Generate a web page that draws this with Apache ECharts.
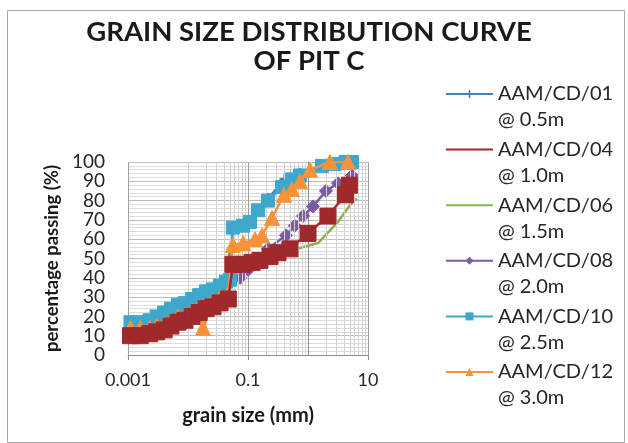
<!DOCTYPE html>
<html>
<head>
<meta charset="utf-8">
<script src="https://cdn.jsdelivr.net/npm/echarts@6/dist/echarts.min.js"></script>
<style>html,body{margin:0;padding:0;background:#fff}#c{width:628px;height:443px}</style>
</head>
<body>
<div id="c"></div>
<script>
// ---- data (grain size in mm, percentage passing) ----
const seriesNames = ['AAM/CD/01\n@ 0.5m','AAM/CD/04\n@ 1.0m','AAM/CD/06\n@ 1.5m','AAM/CD/08\n@ 2.0m','AAM/CD/10\n@ 2.5m','AAM/CD/12\n@ 3.0m'];

const cd01Size = [0.0011,0.0023,0.0068,0.02,0.043,0.056,0.108,0.215,0.413,0.736,1.71,4.22,5.41];
const cd01Pass = [17,18,26,33,38,66,69,81,91,94,98,100,100];

const cd04Size = [0.0011,0.0016,0.0023,0.003,0.004,0.0052,0.0068,0.0089,0.0117,0.0153,0.02,0.0261,0.0342,0.047,0.056,0.083,0.117,0.158,0.233,0.316,0.5,1.0,2.15,4.22,4.9];
const cd04Pass = [10,10,11,12,13,15,17,18,20,22,24,25,27,29,47,47,48,49,51,53,55,63,72,83,88];

const cd06Size = [0.0011,0.0023,0.004,0.0068,0.0117,0.02,0.0342,0.047,0.056,0.117,0.233,0.5,1.47,3.16,5.41,6.55];
const cd06Pass = [9,10,12,16,19,23,26,28,46,47,50,54,58,69,79,81];

const cd08Size = [0.05,0.074,0.1,0.147,0.215,0.43,0.6,0.825,1.21,1.99,3.16,5.41];
const cd08Pass = [39,40,44,47,55,62,67,72,77,85,89,93];

const cd10Size = [0.0011,0.0016,0.0023,0.003,0.004,0.0052,0.0068,0.0089,0.0117,0.0153,0.02,0.0261,0.0342,0.043,0.05,0.056,0.083,0.108,0.147,0.215,0.369,0.541,0.736,1.71,2.82,4.22,5.41];
const cd10Pass = [17,17,18,20,22,24,26,27,29,31,33,34,36,38,39,66,67,69,75,80,87,91,93,98,99,100,100];

const cd12Size = [0.0011,0.0016,0.0023,0.003,0.004,0.0052,0.0068,0.0089,0.0117,0.0153,0.0178,0.0261,0.0342,0.047,0.056,0.083,0.131,0.171,0.251,0.398,0.541,0.736,1.08,2.32,4.64];
const cd12Pass = [14,14,14,15,16,18,20,21,23,25,14,28,30,32,57,58,60,62,71,83,86,90,96,100,100];

const xTickExponents = [-3, -1, 1];           // labelled ticks: 0.001, 0.1, 10
const minorMultipliers = [2,3,4,5,6,7,8,9];  // log minor grid lines per decade
const decades = [0.001, 0.01, 0.1, 1];

function zip(a, b) { return a.map((v, i) => [v, b[i]]); }

const FONT = 'Lato';
const plusPath = 'path://M4,0H6V4H10V6H6V10H4V6H0V4H4Z';

const minorLines = [];
decades.forEach(d => minorMultipliers.forEach(m => minorLines.push({ xAxis: +(d * m).toPrecision(3) })));

function lineSeries(name, data, color, symbol, size, z) {
  return {
    name, type: 'line', data, z,
    xAxisIndex: 0, yAxisIndex: 0,
    symbol, symbolSize: size, showSymbol: symbol !== 'none',
    lineStyle: { color, width: 2.5 },
    itemStyle: { color, borderColor: color },
    emphasis: { disabled: true },
    animation: false
  };
}

const chart = echarts.init(document.getElementById('c'), null, { renderer: 'canvas' });
chart.setOption({
  animation: false,
  backgroundColor: '#fff',
  textStyle: { fontFamily: FONT },
  graphic: [{
    type: 'rect', left: 5, top: 8, shape: { width: 617, height: 432 },
    style: { fill: 'none', stroke: '#A6A6A6', lineWidth: 1 }, silent: true, z: -10
  }],
  title: {
    text: 'GRAIN SIZE DISTRIBUTION CURVE\nOF PIT C',
    left: 304, top: 13, textAlign: 'center',
    textStyle: { fontFamily: FONT, fontWeight: 'bold', fontSize: 27.5, lineHeight: 29, color: '#1a1a1a' }
  },
  legend: {
    orient: 'vertical', left: 445, top: 55, padding: 0,
    itemWidth: 47, itemHeight: 10, itemGap: -22.4,
    formatter: name => '\n' + name,
    data: [
      { name: seriesNames[0] },
      { name: seriesNames[1], itemStyle: { opacity: 0 } },
      { name: seriesNames[2], itemStyle: { opacity: 0 } },
      { name: seriesNames[3] },
      { name: seriesNames[4] },
      { name: seriesNames[5] }
    ],
    textStyle: { fontFamily: FONT, fontSize: 20, lineHeight: 26, color: '#262626' }
  },
  grid: { left: 128, right: 260, top: 162, bottom: 88, containLabel: false },
  xAxis: [{
    type: 'log', logBase: 10, min: 0.001, max: 10,
    axisLine: { show: true, onZero: false, lineStyle: { color: '#8c8c8c', width: 1 } },
    axisTick: { show: false }, axisLabel: { show: false },
    splitLine: { show: true, lineStyle: { color: '#A0A0A0', width: 1 } }
  }, {
    type: 'value', position: 'bottom', min: -3, max: 1, interval: 2,
    axisLine: { show: false },
    axisTick: { show: true, length: 5, lineStyle: { color: '#8c8c8c' } },
    splitLine: { show: false },
    axisLabel: {
      fontFamily: FONT, fontSize: 18, color: '#262626', margin: 16,
      formatter: v => xTickExponents.includes(v) ? String(+Math.pow(10, v).toPrecision(3)) : ''
    },
    name: 'grain size (mm)', nameLocation: 'middle', nameGap: 51,
    nameTextStyle: { fontFamily: FONT, fontWeight: 'bold', fontSize: 20, color: '#1a1a1a' }
  }],
  yAxis: {
    type: 'value', min: 0, max: 100, interval: 10,
    axisLine: { show: true, lineStyle: { color: '#8c8c8c' } },
    axisTick: { show: false },
    minorTick: { show: false, splitNumber: 5 },
    axisLabel: { fontFamily: FONT, fontSize: 19, color: '#262626', margin: 23 },
    splitLine: { show: true, lineStyle: { color: '#BDBDBD', width: 1 } },
    minorSplitLine: { show: true, lineStyle: { color: '#DCDCDC', width: 1 } },
    name: 'percentage passing (%)', nameLocation: 'middle', nameGap: 66, nameRotate: 90,
    nameTextStyle: { fontFamily: FONT, fontWeight: 'bold', fontSize: 18.5, color: '#1a1a1a' }
  },
  series: [
    Object.assign(lineSeries(seriesNames[0], zip(cd01Size, cd01Pass), '#4A7EBB', plusPath, 10, 2), {
      markLine: { silent: true, symbol: 'none', label: { show: false }, animation: false,
        lineStyle: { color: '#D2D2D2', width: 1, type: 'solid' }, data: minorLines }
    }),
    lineSeries(seriesNames[2], zip(cd06Size, cd06Pass), '#8DB04E', 'none', 0, 3),
    lineSeries(seriesNames[3], zip(cd08Size, cd08Pass), '#7B5AA6', 'diamond', 13, 4),
    lineSeries(seriesNames[4], zip(cd10Size, cd10Pass), '#3DA8CC', 'rect', 13, 5),
    lineSeries(seriesNames[5], zip(cd12Size, cd12Pass), '#F7923A', 'triangle', 15, 6),
    lineSeries(seriesNames[1], zip(cd04Size, cd04Pass), '#A0292B', 'rect', 16, 7)
  ]
});
</script>
</body>
</html>
